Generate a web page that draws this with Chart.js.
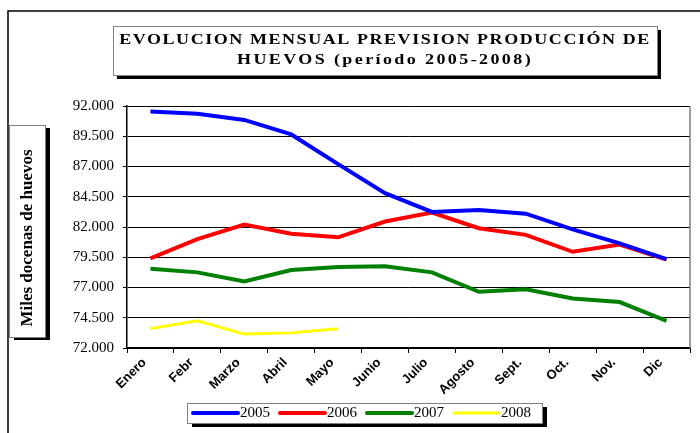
<!DOCTYPE html>
<html lang="es">
<head>
  <meta charset="UTF-8" />
  <title>Evolucion mensual prevision produccion de huevos</title>
  <script src="https://cdn.jsdelivr.net/npm/chart.js"></script>
  <style>
    html, body { margin: 0; padding: 0; background: #fff; }
    canvas { display: block; }
  </style>
</head>
<body>
  <canvas id="huevosChart" width="700" height="433"></canvas>

  <script>
    // data (miles docenas)
    const months = ['Enero', 'Febr', 'Marzo', 'Abril', 'Mayo', 'Junio', 'Julio', 'Agosto', 'Sept.', 'Oct.', 'Nov.', 'Dic'];
    const years = ['2005', '2006', '2007', '2008'];
    const prod2005 = [91550, 91350, 90850, 89650, 87200, 84800, 83250, 83400, 83100, 81800, 80650, 79350];
    const prod2006 = [79400, 81000, 82200, 81450, 81150, 82450, 83200, 81900, 81350, 79950, 80550, 79300];
    const prod2007 = [78550, 78250, 77500, 78450, 78700, 78750, 78250, 76650, 76850, 76100, 75800, 74250];
    const prod2008 = [73600, 74250, 73150, 73250, 73600, null, null, null, null, null, null, null];
    const yTicks = [72000, 74500, 77000, 79500, 82000, 84500, 87000, 89500, 92000];

    const colors = ['#0000ff', '#ff0000', '#008000', '#ffff00'];
    const widths = [4, 4, 4, 3];
    const titleLines = ['EVOLUCION MENSUAL PREVISION PRODUCCIÓN DE', 'HUEVOS (período 2005-2008)'];
    const yTitle = 'Miles docenas de huevos';

    function fmt(v) {
      const miles = Math.floor(v / 1000);
      const rest = String(v % 1000).padStart(3, '0');
      return miles + '.' + rest;
    }

    function box(ctx, x, y, w, h, sx, sy) {
      ctx.fillStyle = '#000';
      ctx.fillRect(x + sx, y + sy, w, h);
      ctx.fillStyle = '#fff';
      ctx.fillRect(x, y, w, h);
      ctx.strokeStyle = '#808080';
      ctx.lineWidth = 1;
      ctx.strokeRect(x + 0.5, y + 0.5, w, h);
    }

    // old excel text looks stretched sideways, so scale x a bit
    function wideText(ctx, text, x, y, sx, spacing) {
      ctx.save();
      ctx.translate(x, y);
      ctx.scale(sx, 1);
      ctx.letterSpacing = spacing + 'px';
      ctx.fillText(text, 0, 0);
      ctx.restore();
    }

    const decor = {
      id: 'decor',
      beforeDraw(chart) {
        const ctx = chart.ctx;
        ctx.save();
        ctx.fillStyle = '#fff';
        ctx.fillRect(0, 0, chart.width, chart.height);
        ctx.restore();
      },
      afterDraw(chart) {
        const ctx = chart.ctx;
        const a = chart.chartArea;
        ctx.save();

        // gray right edge of plot
        ctx.strokeStyle = '#808080';
        ctx.lineWidth = 1.5;
        ctx.beginPath();
        ctx.moveTo(a.right, a.top);
        ctx.lineTo(a.right, a.bottom);
        ctx.stroke();

        // outer frame (cut off at right and bottom)
        ctx.strokeStyle = '#000';
        ctx.lineWidth = 1.5;
        ctx.beginPath();
        ctx.moveTo(8, 433);
        ctx.lineTo(8, 11);
        ctx.lineTo(700, 11);
        ctx.stroke();

        // title
        box(ctx, 113, 26, 544, 49, 4, 4);
        ctx.fillStyle = '#000';
        ctx.font = 'bold 15px "Liberation Serif"';
        ctx.textAlign = 'center';
        ctx.textBaseline = 'middle';
        wideText(ctx, titleLines[0], 385, 40, 1.2, 1.3);
        wideText(ctx, titleLines[1], 385, 60, 1.2, 2);

        // y axis title
        box(ctx, 9, 125, 36, 212, 5, 3);
        ctx.save();
        ctx.translate(28, 238);
        ctx.rotate(-Math.PI / 2);
        ctx.fillStyle = '#000';
        ctx.font = 'bold 17px "Liberation Serif"';
        ctx.fillText(yTitle, 0, 0);
        ctx.restore();

        // legend
        box(ctx, 187, 403, 355, 20, 5, 4);
        ctx.font = '15px "Liberation Serif"';
        ctx.textAlign = 'left';
        ctx.textBaseline = 'middle';
        chart.data.datasets.forEach((ds, i) => {
          const x0 = 193 + i * 87;
          ctx.strokeStyle = ds.borderColor;
          ctx.lineWidth = ds.borderWidth;
          ctx.lineCap = 'round';
          ctx.beginPath();
          ctx.moveTo(x0, 413);
          ctx.lineTo(x0 + 45, 413);
          ctx.stroke();
          ctx.fillStyle = '#000';
          ctx.fillText(ds.label, x0 + 47, 413);
        });

        ctx.restore();
      }
    };

    const series = [prod2005, prod2006, prod2007, prod2008];

    new Chart(document.getElementById('huevosChart'), {
      type: 'line',
      data: {
        labels: months,
        datasets: series.map((s, i) => ({
          label: years[i],
          data: s,
          borderColor: colors[i],
          backgroundColor: colors[i],
          borderWidth: widths[i],
          pointRadius: 0,
          tension: 0,
          spanGaps: false
        }))
      },
      options: {
        responsive: false,
        animation: false,
        layout: { padding: { left: 0, right: 10, top: 106, bottom: 0 } },
        plugins: {
          legend: { display: false },
          title: { display: false },
          tooltip: { enabled: false }
        },
        scales: {
          x: {
            offset: true,
            grid: { offset: true, drawOnChartArea: false, drawTicks: true, tickLength: 5, color: '#000' },
            border: { color: '#000', width: 1.5 },
            ticks: {
              minRotation: 45, maxRotation: 45, padding: 2, labelOffset: -6, color: '#000',
              font: { family: 'Liberation Sans', size: 13, weight: 'bold' }
            },
            afterFit(scale) { scale.height = 85; }
          },
          y: {
            min: 72000,
            max: 92000,
            afterBuildTicks(scale) { scale.ticks = yTicks.map(v => ({ value: v })); },
            grid: { color: '#000', lineWidth: 1, tickLength: 4 },
            border: { color: '#000', width: 1.5 },
            ticks: {
              padding: 9, color: '#000',
              font: { family: 'Liberation Serif', size: 15 },
              callback: v => fmt(v)
            },
            afterFit(scale) { scale.width = 127; }
          }
        }
      },
      plugins: [decor]
    });
  </script>
</body>
</html>
